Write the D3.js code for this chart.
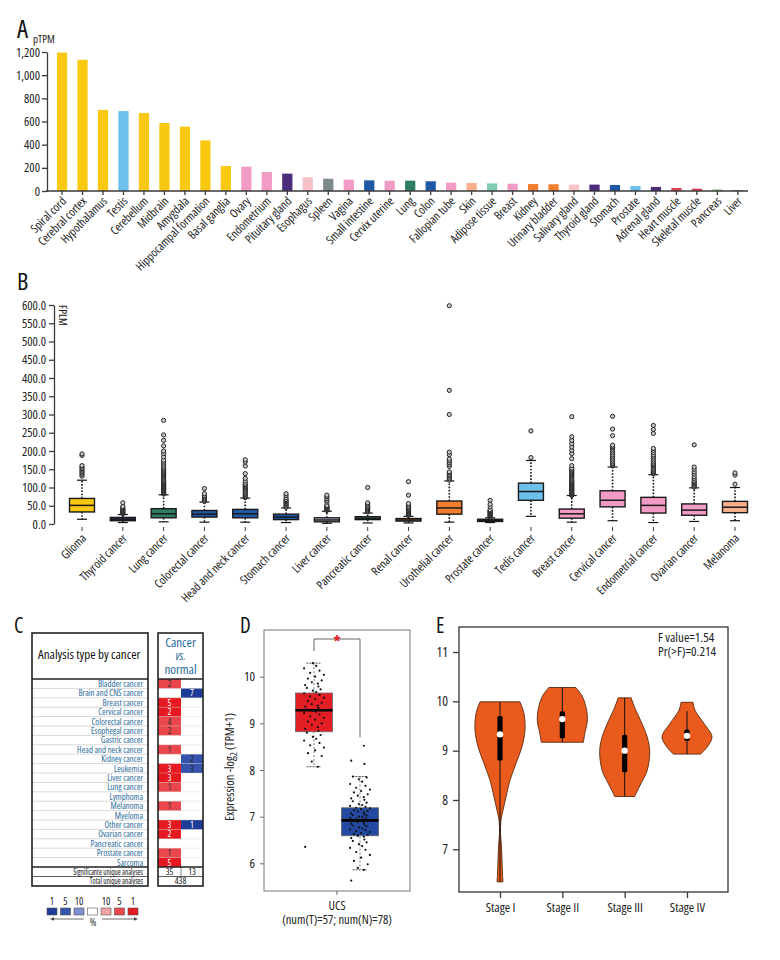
<!DOCTYPE html>
<html><head><meta charset="utf-8">
<script src="https://cdn.jsdelivr.net/npm/d3@7"></script>
<style>
body{margin:0;background:#fff}
svg text{font-family:'Open Sans',sans-serif;font-stretch:condensed}
</style></head><body>
<svg id="c" width="780" height="960"></svg>
<script>
// ---------- Panel A data ----------
const tissues = ["Spiral cord","Cerebral cortex","Hypothalamus","Testis","Cerebellum","Midbrain","Amygdala","Hippocampal formation","Basal ganglia","Ovary","Endometrium","Pituitary gland","Esophagus","Spleen","Vagina","Small intestine","Cervix uterine","Lung","Colon","Fallopian tube","Skin","Adipose tissue","Breast","Kidney","Urinary bladder","Salivary gland","Thyroid gland","Stomach","Prostate","Adrenal gland","Heart muscle","Skeletal muscle","Pancreas","Liver"];
const tissueValues = [1195,1133,700,690,674,587,555,437,216,210,164,150,118,106,98,92,89,89,84,72,69,66,63,60,58,55,55,52,43,35,26,20,14,6];
const tissueGroup = ["brain","brain","brain","testis","brain","brain","brain","brain","brain","female","female","pituitary","esoph","spleen","female","gi","female","lung","gi","female","skin","adipose","female","kidney","kidney","salivary","pituitary","gi","testis","pituitary","muscle","muscle","pancreas","liver"];
const pTPMTicks = [0,200,400,600,800,1000,1200];

// ---------- Panel B data ----------
const cancers = ["Glioma","Thyroid cancer","Lung cancer","Colorectal cancer","Head and neck cancer","Stomach cancer","Liver cancer","Pancreatic cancer","Renal cancer","Urothelial cancer","Prostate cancer","Tedis cancer","Breast cancer","Cervical cancer","Endometrial cancer","Ovarian cancer","Melanoma"];
const fpkmQ1 =  [33, 9, 17, 19, 17, 12, 6, 12, 8, 27, 7, 65, 16, 47, 30, 24, 31];
const fpkmMed = [51, 13, 28, 27, 28, 19, 11, 15, 11, 44, 10, 89, 28, 65, 51, 38, 46];
const fpkmQ3 =  [70, 18, 42, 37, 40, 27, 17, 20, 15, 63, 13, 112, 41, 91, 73, 55, 62];
const fpkmLo =  [13, 4, 6, 5, 5, 4, 2, 3, 3, 5, 4, 21, 5, 9, 4, 7, 9];
const fpkmHi =  [120, 26, 80, 60, 71, 44, 35, 30, 21, 118, 17, 174, 78, 156, 135, 99, 100];
const fpkmOutliers = [
  [131,136,140,144,148,152,156,160,188,192],
  [28,30,32,34,36,38,40,42,45,48,58],
  [82,84,86,88,90,92,94,96,98,100,102,104,106,108,110,112,114,116,118,120,123,126,129,132,135,138,141,144,147,150,153,156,161,166,170,175,184,193,200,214,229,244,284],
  [62,65,68,71,74,78,83,97],
  [72,75,78,81,84,87,90,93,96,99,102,105,108,112,118,125,138,159,170,176],
  [46,49,52,55,58,61,64,67,72,78,83],
  [37,39,41,43,45,47,49,51,60,65,70,75,79],
  [33,36,39,42,45,48,51,55,58,100],
  [24,26,28,30,32,34,36,38,40,42,45,48,52,56,79,116],
  [120,124,128,132,136,140,143,158,163,168,173,178,190,197,300,366,598],
  [19,21,23,25,27,29,31,33,35,37,39,47,54,65],
  [182,255],
  [78,80,82,84,86,88,90,92,94,96,98,100,102,104,106,108,110,112,114,116,118,120,123,126,129,132,135,138,141,144,147,150,153,160,179,193,202,211,220,229,239,294],
  [160,163,166,170,175,180,185,190,195,200,205,210,212,216,242,260,295],
  [138,141,144,147,150,153,156,160,163,166,170,175,180,185,190,196,202,207,248,259,270],
  [101,104,107,110,113,116,120,125,130,137,143,150,156,217],
  [109,134,140]
];
const cancerGroup = ["brain","pituitary","lung","gi","gi","gi","liverc","pancreasc","kidney","kidney","prostatec","testis","female","female","female","female","skin"];
const fpkmTicks = [0,50,100,150,200,250,300,350,400,450,500,550,600];

// ---------- Panel C data ----------
const oncoCancers = ["Bladder cancer","Brain and CNS cancer","Breast cancer","Cervical cancer","Colorectal cancer","Esophegal cancer","Gastric cancer","Head and neck cancer","Kidney cancer","Leukemia","Liver cancer","Lung cancer","Lymphoma","Melanoma","Myeloma","Other cancer","Ovarian cancer","Pancreatic cancer","Prostate cancer","Sarcoma"];
const overCounts  = [2,null,5,2,4,2,null,1,null,3,3,1,null,1,null,3,2,null,1,5];
const overRank    = [5,null,1,1,5,5,null,5,null,1,1,5,null,5,null,1,1,null,5,1];
const underCounts = [null,7,null,null,null,null,null,null,2,3,null,null,null,null,null,1,null,null,null,null];
const underRank   = [null,1,null,null,null,null,null,null,5,5,null,null,null,null,null,1,null,null,null,null];
const significantCounts = [35,13];
const totalAnalyses = 438;
const legendLabels = ["1","5","10","","10","5","1"];

// ---------- Panel D data ----------
const ucsGroups = ["Tumor","Normal"];
const ucsQ1 = [8.82,6.59], ucsMed = [9.28,6.92], ucsQ3 = [9.65,7.19], ucsLo = [8.07,5.86], ucsHi = [10.29,7.86];
const tumorValues = [6.35,8.07,8.18,8.3,8.36,8.42,8.48,8.53,8.58,8.63,8.67,8.71,8.75,8.8,8.84,8.88,8.92,8.97,9.0,9.04,9.08,9.12,9.15,9.19,9.22,9.25,9.27,9.28,9.3,9.33,9.36,9.38,9.41,9.44,9.48,9.52,9.55,9.58,9.61,9.64,9.67,9.7,9.73,9.76,9.79,9.82,9.85,9.88,9.92,9.96,10.0,10.04,10.08,10.13,10.18,10.23,10.29];
const normalValues = [5.63,5.86,5.9,5.98,6.05,6.12,6.18,6.24,6.29,6.33,6.37,6.41,6.45,6.48,6.51,6.54,6.57,6.59,6.61,6.63,6.65,6.67,6.69,6.71,6.73,6.75,6.77,6.79,6.81,6.83,6.85,6.87,6.88,6.9,6.91,6.92,6.93,6.94,6.96,6.97,6.99,7.0,7.02,7.03,7.05,7.07,7.09,7.11,7.12,7.14,7.16,7.18,7.19,7.21,7.23,7.25,7.27,7.3,7.33,7.36,7.39,7.42,7.45,7.48,7.52,7.55,7.58,7.62,7.66,7.7,7.75,7.8,7.84,7.86,8.13,8.2,8.52,6.6];
const jitterPattern = [-0.8,0.35,-0.2,0.7,-0.55,0.1,0.9,-0.35,0.5,-0.9,0.2,-0.1,0.6,-0.65,0.4];
const ucsTicks = [6,7,8,9,10];

// ---------- Panel E data ----------
const stages = ["Stage I","Stage II","Stage III","Stage IV"];
const stageDensity = [
  [[9.99,0.8],[9.75,0.96],[9.42,1.0],[9.08,0.88],[8.74,0.64],[8.4,0.4],[8.06,0.24],[7.79,0.12],[7.6,0.04],[7.32,0.02],[7.05,0.06],[6.78,0.08],[6.5,0.1],[6.34,0.12]],
  [[10.28,0.54],[10.1,0.8],[9.85,0.96],[9.6,1.0],[9.4,0.92],[9.17,0.84]],
  [[10.07,0.26],[9.85,0.42],[9.61,0.64],[9.28,0.9],[8.98,1.0],[8.6,0.9],[8.34,0.66],[8.16,0.48],[8.07,0.4]],
  [[9.98,0.24],[9.82,0.32],[9.55,0.68],[9.28,1.0],[9.07,0.8],[8.93,0.54]]
];
const stageMin = [6.34,9.17,8.07,8.93], stageMax = [9.99,10.28,10.07,9.8];
const stageQ1 = [8.8,9.25,8.56,9.2], stageQ3 = [9.7,9.8,9.32,9.43], stageMed = [9.33,9.64,9.0,9.3];
const stageTicks = [7,8,9,10,11];
const anovaText = ["F value=1.54","Pr(>F)=0.214"];

// ================= drawing =================
const svg = d3.select("#c");
const groupColor = {brain:"#F9C912",testis:"#6DC0EA",female:"#F29BC6",pituitary:"#4B2D7B",esoph:"#F7C0C8",spleen:"#7C8A8C",gi:"#1F58A6",lung:"#2E7D61",skin:"#F7B08B",adipose:"#82CDB2",kidney:"#EF7E2E",salivary:"#F8C4CA",muscle:"#E23F4F",pancreas:"#95CC92",liver:"#6B4A2E",liverc:"#C9C8E6",pancreasc:"#3F8050",prostatec:"#6DC0EA"};
const axisCol = "#3a3a3a";
function styleAxis(g, fs){
  g.selectAll("path,line").attr("stroke", axisCol).attr("stroke-width",1.3);
  g.selectAll("text").attr("fill","#222").style("font-size", fs+"px");
}
function letter(t,x,y,fs){ svg.append("text").attr("x",x).attr("y",y).text(t).style("font-size",fs+"px").attr("fill","#111"); }

// ---- A ----
letter("A",17,38,25);
const xA = d3.scaleBand().domain(tissues).range([51.8,748.1]).paddingInner(0.5).paddingOuter(0.25);
const yA = d3.scaleLinear().domain([0,1200]).range([191,52]);
const gA = svg.append("g");
gA.selectAll("rect").data(tissues).join("rect")
  .attr("x",d=>xA(d)).attr("width",xA.bandwidth())
  .attr("y",(d,i)=>yA(tissueValues[i])).attr("height",(d,i)=>yA(0)-yA(tissueValues[i]))
  .attr("fill",(d,i)=>groupColor[tissueGroup[i]]);
const axA = gA.append("g").attr("transform","translate(47,0)")
  .call(d3.axisLeft(yA).tickValues(pTPMTicks).tickFormat(d3.format(",")).tickSize(5).tickSizeOuter(0).tickPadding(2));
styleAxis(axA,12.5);
gA.append("line").attr("x1",46).attr("x2",748).attr("y1",yA(0)).attr("y2",yA(0)).attr("stroke",axisCol).attr("stroke-width",1.6);
gA.selectAll("line.tk").data(tissues).join("line").attr("class","tk")
  .attr("x1",d=>xA(d)+xA.bandwidth()/2).attr("x2",d=>xA(d)+xA.bandwidth()/2)
  .attr("y1",yA(0)).attr("y2",yA(0)+4).attr("stroke",axisCol).attr("stroke-width",1.3);
gA.selectAll("text.lab").data(tissues).join("text").attr("class","lab")
  .attr("transform",d=>`translate(${xA(d)+xA.bandwidth()/2+2},${yA(0)+8}) rotate(-45)`)
  .attr("text-anchor","end").attr("dy","0.35em").style("font-size","12px").attr("fill","#222").text(d=>d);
svg.append("text").attr("x",33).attr("y",43).text("pTPM").style("font-size","11px").attr("fill","#222");

// ---- B ----
letter("B",17,290,24);
const xB = d3.scalePoint().domain(cancers).range([82,735]);
const yB = d3.scaleLinear().domain([0,600]).range([524,305]);
const gB = svg.append("g");
const axB = gB.append("g").attr("transform","translate(54,0)")
  .call(d3.axisLeft(yB).tickValues(fpkmTicks).tickFormat(d3.format(".1f")).tickSize(5).tickSizeOuter(0).tickPadding(3));
styleAxis(axB,12.5);
svg.append("text").attr("transform","translate(59,305) rotate(90)").text("FPLM").style("font-size","11px").attr("fill","#222");
const bw = 25;
cancers.forEach((c,i)=>{
  const cx = xB(c);
  const g = gB.append("g");
  g.append("line").attr("x1",cx).attr("x2",cx).attr("y1",yB(fpkmQ3[i])).attr("y2",yB(fpkmHi[i]))
    .attr("stroke","#111").attr("stroke-width",1.6).attr("stroke-dasharray","1.6,1.6");
  g.append("line").attr("x1",cx).attr("x2",cx).attr("y1",yB(fpkmQ1[i])).attr("y2",yB(fpkmLo[i]))
    .attr("stroke","#111").attr("stroke-width",1.6).attr("stroke-dasharray","1.6,1.6");
  [fpkmHi[i],fpkmLo[i]].forEach(v=>g.append("line").attr("x1",cx-5).attr("x2",cx+5).attr("y1",yB(v)).attr("y2",yB(v)).attr("stroke","#111").attr("stroke-width",1.2));
  g.append("rect").attr("x",cx-bw/2).attr("width",bw).attr("y",yB(fpkmQ3[i])).attr("height",yB(fpkmQ1[i])-yB(fpkmQ3[i]))
    .attr("fill",groupColor[cancerGroup[i]]).attr("stroke","#1a1a1a").attr("stroke-width",1.4);
  g.append("line").attr("x1",cx-bw/2).attr("x2",cx+bw/2).attr("y1",yB(fpkmMed[i])).attr("y2",yB(fpkmMed[i])).attr("stroke","#1a1a1a").attr("stroke-width",1.5);
  g.selectAll("circle").data(fpkmOutliers[i]).join("circle").attr("cx",cx).attr("cy",v=>yB(v)).attr("r",2.1)
    .attr("fill","#c8c8c8").attr("stroke","#222").attr("stroke-width",1);
  g.append("line").attr("x1",cx).attr("x2",cx).attr("y1",527).attr("y2",531).attr("stroke",axisCol).attr("stroke-width",1);
  g.append("text").attr("transform",`translate(${cx+2},${536}) rotate(-45)`).attr("text-anchor","end").attr("dy","0.35em")
    .style("font-size","12px").attr("fill","#222").text(c);
});

// ---- C ----
letter("C",14,633,21);
const gC = svg.append("g");
const cTop = 633, cHead = 679, rowH = (867-679)/20, cBot = 886;
const lx0 = 32, lx1 = 148, rx0 = 158, rxm = 181, rx1 = 203;
const yC = d3.scaleBand().domain(oncoCancers).range([cHead, cHead+20*rowH]);
const overColor = {1:"#E5191F",5:"#E9474B",10:"#F3A4A4"};
const underColor = {1:"#1E3D98",5:"#3553AB",10:"#7E8ED0"};
const cFs = 9.2;
oncoCancers.forEach((c,i)=>{
  const y0 = yC(c);
  if(overCounts[i]!==null){
    gC.append("rect").attr("x",rx0).attr("y",y0).attr("width",rxm-rx0).attr("height",rowH).attr("fill",overColor[overRank[i]]);
    gC.append("text").attr("x",(rx0+rxm)/2).attr("y",y0+rowH/2).attr("dy","0.36em").attr("text-anchor","middle")
      .style("font-size",cFs+"px").attr("fill",overRank[i]===1?"#fff":"#333").text(overCounts[i]);
  }
  if(underCounts[i]!==null){
    gC.append("rect").attr("x",rxm).attr("y",y0).attr("width",rx1-rxm).attr("height",rowH).attr("fill",underColor[underRank[i]]);
    gC.append("text").attr("x",(rxm+rx1)/2).attr("y",y0+rowH/2).attr("dy","0.36em").attr("text-anchor","middle")
      .style("font-size",cFs+"px").attr("fill",underRank[i]===1?"#fff":"#222").text(underCounts[i]);
  }
  if(i>0){
    gC.append("line").attr("x1",lx0).attr("x2",lx1).attr("y1",y0).attr("y2",y0).attr("stroke","#cfcfcf").attr("stroke-width",0.8);
    gC.append("line").attr("x1",rx0).attr("x2",rx1).attr("y1",y0).attr("y2",y0).attr("stroke","#cfcfcf").attr("stroke-width",0.6).attr("opacity",0.6);
  }
  gC.append("text").attr("transform",`translate(143,${y0+rowH/2}) scale(0.95,1)`).attr("dy","0.36em").attr("text-anchor","end")
    .style("font-size",cFs+"px").attr("fill","#2A6C9C").text(c);
});
const sY0 = cHead+20*rowH, sY1 = sY0 + (cBot-sY0)/2;
gC.append("line").attr("x1",lx0).attr("x2",lx1).attr("y1",sY1).attr("y2",sY1).attr("stroke","#333").attr("stroke-width",0.8);
gC.append("line").attr("x1",rx0).attr("x2",rx1).attr("y1",sY1).attr("y2",sY1).attr("stroke","#333").attr("stroke-width",0.8);
gC.append("line").attr("x1",rxm).attr("x2",rxm).attr("y1",sY0).attr("y2",sY1).attr("stroke","#666").attr("stroke-width",0.8);
gC.append("text").attr("transform",`translate(143,${(sY0+sY1)/2}) scale(0.8,1)`).attr("dy","0.36em").attr("text-anchor","end").style("font-size","9px").attr("fill","#111").text("Significante unique analyses");
gC.append("text").attr("transform",`translate(143,${(sY1+cBot)/2}) scale(0.8,1)`).attr("dy","0.36em").attr("text-anchor","end").style("font-size","9px").attr("fill","#111").text("Total unique analyses");
gC.append("text").attr("x",(rx0+rxm)/2).attr("y",(sY0+sY1)/2).attr("dy","0.36em").attr("text-anchor","middle").style("font-size","9px").attr("fill","#111").text(significantCounts[0]);
gC.append("text").attr("x",(rxm+rx1)/2).attr("y",(sY0+sY1)/2).attr("dy","0.36em").attr("text-anchor","middle").style("font-size","9px").attr("fill","#111").text(significantCounts[1]);
gC.append("text").attr("x",(rx0+rx1)/2).attr("y",(sY1+cBot)/2).attr("dy","0.36em").attr("text-anchor","middle").style("font-size","9px").attr("fill","#111").text(totalAnalyses);
[[lx0,lx1],[rx0,rx1]].forEach(([a,b])=>{
  gC.append("rect").attr("x",a).attr("y",cTop).attr("width",b-a).attr("height",cBot-cTop).attr("fill","none").attr("stroke","#222").attr("stroke-width",1.6);
  gC.append("line").attr("x1",a).attr("x2",b).attr("y1",cHead).attr("y2",cHead).attr("stroke","#222").attr("stroke-width",1.6);
  gC.append("line").attr("x1",a).attr("x2",b).attr("y1",sY0).attr("y2",sY0).attr("stroke","#222").attr("stroke-width",1.4);
});
gC.append("text").attr("x",38).attr("y",659).style("font-size","13px").attr("fill","#111").text("Analysis type by cancer");
gC.append("text").attr("x",(rx0+rx1)/2).attr("y",647).attr("text-anchor","middle").style("font-size","13px").attr("fill","#1F6A9C").text("Cancer");
gC.append("text").attr("x",(rx0+rx1)/2).attr("y",660).attr("text-anchor","middle").style("font-size","12px").style("font-style","italic").attr("fill","#1F6A9C").text("vs.");
gC.append("text").attr("x",(rx0+rx1)/2).attr("y",674).attr("text-anchor","middle").style("font-size","13px").attr("fill","#1F6A9C").text("normal");
const legColors = [underColor[1],underColor[5],underColor[10],"#ffffff",overColor[10],overColor[5],overColor[1]];
const xLeg = d3.scalePoint().domain(d3.range(7)).range([52,133]);
legendLabels.forEach((l,i)=>{
  gC.append("rect").attr("x",xLeg(i)-5).attr("y",908).attr("width",10).attr("height",7).attr("fill",legColors[i]).attr("stroke","#555").attr("stroke-width",0.6);
  gC.append("text").attr("x",xLeg(i)).attr("y",905).attr("text-anchor","middle").style("font-size","10px").attr("fill","#222").text(l);
});
gC.append("line").attr("x1",84).attr("x2",52).attr("y1",919).attr("y2",919).attr("stroke","#444").attr("stroke-width",0.8);
gC.append("path").attr("d","M50,919 l4,-1.8 v3.6 z").attr("fill","#444");
gC.append("line").attr("x1",102).attr("x2",135).attr("y1",919).attr("y2",919).attr("stroke","#444").attr("stroke-width",0.8);
gC.append("path").attr("d","M138,919 l-4,-1.8 v3.6 z").attr("fill","#444");
gC.append("text").attr("x",93).attr("y",926).attr("text-anchor","middle").style("font-size","10px").attr("fill","#333").text("%");

// ---- D ----
letter("D",240,633,21);
const gD = svg.append("g");
const xD = d3.scalePoint().domain(ucsGroups).range([314,360]);
const yD = d3.scaleLinear().domain([6,10]).range([863.3,676.7]);
const dBox = {x0:264,x1:410,y0:630,y1:891};
const dColors = ["#E41E25","#2349A0"];
const axD = gD.append("g").attr("transform",`translate(${dBox.x0},0)`)
  .call(d3.axisLeft(yD).tickValues(ucsTicks).tickFormat(d3.format("d")).tickSize(4).tickPadding(5));
axD.select(".domain").remove();
styleAxis(axD,13);
axD.selectAll("line").attr("stroke","#666").attr("stroke-width",1);
const bwD = 37;
ucsGroups.forEach((g,i)=>{
  const cx = xD(g);
  gD.append("line").attr("x1",cx).attr("x2",cx).attr("y1",yD(ucsHi[i])).attr("y2",yD(ucsLo[i])).attr("stroke","#666").attr("stroke-width",0.9).attr("stroke-dasharray","2,2");
  [ucsHi[i],ucsLo[i]].forEach(v=>gD.append("line").attr("x1",cx-7.5).attr("x2",cx+7.5).attr("y1",yD(v)).attr("y2",yD(v)).attr("stroke","#555").attr("stroke-width",1).attr("stroke-dasharray","2,1"));
  gD.append("rect").attr("x",cx-bwD/2).attr("width",bwD).attr("y",yD(ucsQ3[i])).attr("height",yD(ucsQ1[i])-yD(ucsQ3[i]))
    .attr("fill",dColors[i]).attr("stroke","#666").attr("stroke-width",0.8);
  gD.append("line").attr("x1",cx-bwD/2).attr("x2",cx+bwD/2).attr("y1",yD(ucsMed[i])).attr("y2",yD(ucsMed[i])).attr("stroke","#000").attr("stroke-width",2.6);
  const vals = i===0?tumorValues:normalValues;
  gD.append("g").selectAll("circle").data(vals).join("circle")
    .attr("cx",(v,j)=>cx+jitterPattern[j%jitterPattern.length]*11).attr("cy",v=>yD(v)).attr("r",1.1).attr("fill","#111");
});
gD.append("rect").attr("x",dBox.x0).attr("y",dBox.y0).attr("width",dBox.x1-dBox.x0).attr("height",dBox.y1-dBox.y0)
  .attr("fill","none").attr("stroke","#777").attr("stroke-width",1);
gD.append("path").attr("d",`M${xD("Tumor")},${yD(10.55)} V639 H${xD("Normal")} V${yD(8.7)}`).attr("fill","none").attr("stroke","#666").attr("stroke-width",1);
gD.append("text").attr("x",(xD("Tumor")+xD("Normal"))/2).attr("y",647).attr("text-anchor","middle").style("font-size","16px").style("font-weight","bold").attr("fill","#E8202A").text("*");
gD.append("line").attr("x1",337).attr("x2",337).attr("y1",dBox.y1).attr("y2",dBox.y1+4).attr("stroke","#666");
gD.append("text").attr("x",337).attr("y",910).attr("text-anchor","middle").style("font-size","12.5px").attr("fill","#222").text("UCS");
gD.append("text").attr("x",337).attr("y",924).attr("text-anchor","middle").style("font-size","12.5px").attr("fill","#222").text("(num(T)=57; num(N)=78)");
const yl = gD.append("text").attr("transform","translate(234,767) rotate(-90)").attr("text-anchor","middle").style("font-size","12.5px").attr("fill","#222");
yl.append("tspan").text("Expression -log");
yl.append("tspan").text("2").attr("dy",3).style("font-size","9px");
yl.append("tspan").text(" (TPM+1)").attr("dy",-3);

// ---- E ----
letter("E",436,633,21);
const gE = svg.append("g");
const eBox = {x0:459,x1:728,y0:627,y1:892};
const xE = d3.scalePoint().domain(stages).range([500,687]);
const yE = d3.scaleLinear().domain([7,11]).range([849.3,652]);
const wE = d3.scaleLinear().domain([0,1]).range([0,25]);
stages.forEach((s,i)=>{
  const cx = xE(s);
  const area = d3.area().y(d=>yE(d[0])).x0(d=>cx-wE(d[1])).x1(d=>cx+wE(d[1])).curve(d3.curveCatmullRom);
  gE.append("path").datum(stageDensity[i]).attr("d",area).attr("fill","#E85B1D").attr("stroke","#5a2a10").attr("stroke-width",0.9);
  gE.append("line").attr("x1",cx).attr("x2",cx).attr("y1",yE(stageMax[i])).attr("y2",yE(stageMin[i])).attr("stroke","#111").attr("stroke-width",1);
  gE.append("rect").attr("x",cx-2.6).attr("width",5.2).attr("y",yE(stageQ3[i])).attr("height",yE(stageQ1[i])-yE(stageQ3[i])).attr("rx",1.5).attr("fill","#000");
  gE.append("circle").attr("cx",cx).attr("cy",yE(stageMed[i])).attr("r",3.2).attr("fill","#fff");
});
gE.append("rect").attr("x",eBox.x0).attr("y",eBox.y0).attr("width",eBox.x1-eBox.x0).attr("height",eBox.y1-eBox.y0)
  .attr("fill","none").attr("stroke","#333").attr("stroke-width",1.3);
const axE = gE.append("g").attr("transform",`translate(${eBox.x0},0)`).call(d3.axisLeft(yE).tickValues(stageTicks).tickFormat(d3.format("d")).tickSize(6).tickPadding(5));
axE.select(".domain").remove(); styleAxis(axE,13.5);
const axEx = gE.append("g").attr("transform",`translate(0,${eBox.y1})`).call(d3.axisBottom(xE).tickSize(6).tickPadding(5));
axEx.select(".domain").remove(); styleAxis(axEx,13);
anovaText.forEach((t,k)=>gE.append("text").attr("x",658).attr("y",642+k*14).style("font-size","13px").attr("fill","#222").text(t));
</script>
</body></html>
